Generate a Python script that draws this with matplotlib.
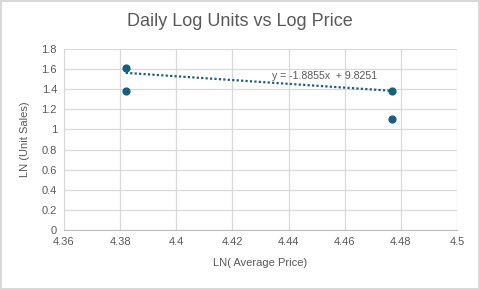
import matplotlib
matplotlib.use("Agg")
import matplotlib.pyplot as plt
import numpy as np

plt.rcParams['font.family'] = ['Liberation Sans', 'DejaVu Sans']

# daily observations (log of average price, log of units sold)
log_price = [4.382, 4.382, 4.477, 4.477]
log_units = [1.609, 1.386, 1.386, 1.099]

# linear trendline as reported on the chart
slope = -1.8855
intercept = 9.8251

x_ticks = [4.36, 4.38, 4.4, 4.42, 4.44, 4.46, 4.48, 4.5]
y_ticks = [0, 0.2, 0.4, 0.6, 0.8, 1, 1.2, 1.4, 1.6, 1.8]

marker_col = '#156082'
text_col = '#595959'
grid_col = '#D9D9D9'

fig = plt.figure(figsize=(4.8, 2.9), dpi=100)
fig.patch.set_edgecolor(grid_col)
fig.patch.set_linewidth(1.5)
ax = fig.add_axes([0.1333, 0.207, 0.8187, 0.624])

ax.scatter(log_price, log_units, s=24, color=marker_col, zorder=3)

tx = np.array([min(log_price), max(log_price)])
ax.plot(tx, slope * tx + intercept, linestyle=(0, (1, 1)), color=marker_col,
        linewidth=1.6, zorder=2)
ax.text(4.434, 1.5, 'y = -1.8855x  + 9.8251', fontsize=7.6, color=text_col)

ax.set_xlim(4.36, 4.5)
ax.set_ylim(0, 1.8)
ax.set_xticks(x_ticks)
ax.set_xticklabels([f'{v:g}' for v in x_ticks])
ax.set_yticks(y_ticks)
ax.set_yticklabels([f'{v:g}' for v in y_ticks])
ax.tick_params(length=0, labelsize=8, colors=text_col, pad=5)
ax.grid(True, color=grid_col, linewidth=0.9)
ax.set_axisbelow(True)
for s in ['top', 'right']:
    ax.spines[s].set_visible(False)
ax.spines['left'].set_color(grid_col)
ax.spines['bottom'].set_color('#BFBFBF')

ax.set_xlabel('LN( Average Price)', fontsize=8, color=text_col, labelpad=8)
ax.set_ylabel('LN (Unit Sales)', fontsize=8, color=text_col, labelpad=8)
fig.suptitle('Daily Log Units vs Log Price', fontsize=13, color=text_col, y=0.955)

fig.savefig('out.png', dpi=100)
